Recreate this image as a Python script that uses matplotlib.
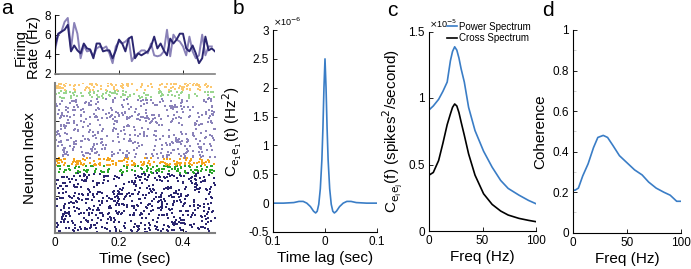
import numpy as np
import matplotlib
matplotlib.use("Agg")
import matplotlib.pyplot as plt
from matplotlib.ticker import FuncFormatter

plt.rcParams['font.family'] = ['Liberation Sans', 'DejaVu Sans']
plt.rcParams['axes.unicode_minus'] = False
plt.rcParams['xtick.direction'] = 'in'
plt.rcParams['ytick.direction'] = 'in'

# ---- panel a: population firing rates (Hz), 10 ms bins
rate_dark = [4.8, 6.1, 6.3, 6.5, 7.0, 4.3, 4.9, 4.4, 4.1, 5.1, 4.6, 4.5, 3.6, 5.1, 5.1,
             4.3, 4.4, 4.4, 3.6, 4.4, 5.5, 5.1, 4.3, 5.6, 5.8, 3.6, 4.1, 3.9, 4.1, 4.3,
             4.8, 5.8, 4.6, 5.1, 4.4, 3.9, 5.6, 5.1, 5.5, 6.1, 6.1, 4.6, 4.3, 4.9, 4.1,
             3.1, 3.6, 5.8, 4.4, 4.6, 4.3]
rate_light = [4.4, 6.0, 6.3, 7.3, 7.7, 4.6, 7.2, 6.1, 3.6, 4.9, 4.3, 4.4, 3.8, 4.6, 4.8,
              4.6, 4.8, 4.1, 3.1, 4.8, 5.3, 5.1, 5.3, 5.6, 3.3, 3.9, 4.1, 4.4, 4.4, 4.1,
              5.1, 3.9, 3.8, 3.9, 4.3, 6.5, 3.8, 6.0, 5.5, 5.3, 4.8, 3.9, 5.8, 4.3, 3.6,
              3.9, 6.0, 3.9, 4.8, 4.8]

# raster populations: (first index, last index, spike count, colour)
raster_groups = [
    (0, 800, 600, '#2b2670'),      # net 1 excitatory
    (800, 900, 120, '#2aa52a'),    # net 1 inhibitory A
    (900, 1000, 140, '#f5a51c'),   # net 1 inhibitory B
    (1000, 1800, 480, '#8b83ba'),  # net 2 excitatory
    (1800, 1900, 90, '#9ad68f'),   # net 2 inhibitory A
    (1900, 2000, 110, '#fcc870'),  # net 2 inhibitory B
]

# ---- panel b: autocovariance (x1e-6 Hz^2)
lag = [-0.1, -0.08, -0.06, -0.05, -0.042, -0.035, -0.028, -0.022, -0.018, -0.015, -0.012,
       -0.009, -0.006, -0.004, -0.002, 0.0, 0.002, 0.004, 0.006, 0.009, 0.012, 0.015,
       0.018, 0.022, 0.028, 0.035, 0.042, 0.05, 0.06, 0.08, 0.1]
acov = [0.0, 0.0, 0.01, 0.03, 0.03, 0.0, -0.06, -0.14, -0.17, -0.14, -0.02, 0.25, 0.75,
        1.3, 2.0, 2.5, 2.0, 1.3, 0.75, 0.25, -0.02, -0.14, -0.17, -0.14, -0.06, 0.0,
        0.03, 0.03, 0.01, 0.0, 0.0]

# ---- panel c: spectra (x1e-5 spikes^2/second)
freq_c = [0, 4, 9, 13, 17, 20, 22, 24, 26, 28, 30, 33, 37, 43, 51, 59, 67, 74, 84, 93, 100]
power = [0.91, 0.94, 0.99, 1.05, 1.12, 1.28, 1.35, 1.385, 1.36, 1.3, 1.22, 1.12, 0.93,
         0.755, 0.6, 0.48, 0.38, 0.32, 0.27, 0.23, 0.205]
cross = [0.42, 0.44, 0.53, 0.66, 0.8, 0.88, 0.93, 0.955, 0.94, 0.89, 0.82, 0.72, 0.58,
         0.42, 0.28, 0.2, 0.15, 0.12, 0.095, 0.08, 0.07]

# ---- panel d: coherence
freq_d = [0, 2, 5, 9, 14, 19, 23, 28, 32, 37, 43, 51, 57, 64, 70, 77, 84, 90, 93, 96, 100]
coher = [0.21, 0.21, 0.22, 0.28, 0.34, 0.42, 0.47, 0.48, 0.47, 0.43, 0.38, 0.34, 0.31,
         0.285, 0.25, 0.22, 0.2, 0.185, 0.17, 0.155, 0.155]

blue = '#3a7dc6'
W, H = 691, 269
fig = plt.figure(figsize=(W / 100, H / 100), dpi=100)


def box(l, t, r, b):
    return [l / W, 1 - b / H, (r - l) / W, (b - t) / H]


def style(ax, spine_col='black'):
    for s in ['top', 'right']:
        ax.spines[s].set_visible(False)
    for s in ['left', 'bottom']:
        ax.spines[s].set_color(spine_col)
        ax.spines[s].set_linewidth(0.8)
    ax.tick_params(labelsize=8.5, length=3, width=0.6, pad=3)


fmt = FuncFormatter(lambda v, p: '%g' % round(v, 3))
LBL = 11

# panel a, top
ax1 = fig.add_axes(box(55, 15, 215, 74))
t_d = np.arange(len(rate_dark)) * 0.01
t_l = np.arange(len(rate_light)) * 0.01
ax1.plot(t_l, rate_light, color='#8a82b8', lw=1.4)
ax1.plot(t_d, rate_dark, color='#2b2670', lw=1.4)
ax1.set_xlim(0, 0.5)
ax1.set_ylim(2, 8)
ax1.set_yticks([2, 4, 6, 8])
ax1.set_xticks([0, 0.2, 0.4])
ax1.set_xticklabels([])
style(ax1)
ax1.spines['bottom'].set_color('#808080')
ax1.spines['bottom'].set_linewidth(1.2)
ax1.set_ylabel('Firing\nRate (Hz)', fontsize=10.5, linespacing=1.0)
ax1.yaxis.set_label_coords(-0.085, 0.45)

# panel a, raster
ax2 = fig.add_axes(box(55, 83, 215, 233))
rng = np.random.default_rng(3)
for lo, hi, n, col in raster_groups:
    ts = rng.uniform(0, 0.5, n)
    ids = rng.uniform(lo, hi, n)
    ax2.scatter(ts, ids, s=1.2, marker='s', c=col, linewidths=0)
ax2.set_xlim(0, 0.5)
ax2.set_ylim(0, 2000)
ax2.set_xticks([0, 0.2, 0.4])
ax2.set_yticks([500, 1000, 1500])
ax2.set_yticklabels([])
style(ax2, '#808080')
ax2.spines['left'].set_linewidth(1.5)
ax2.spines['bottom'].set_linewidth(1.5)
ax2.xaxis.set_major_formatter(fmt)
ax2.set_ylabel('Neuron Index', fontsize=LBL, labelpad=10)
ax2.set_xlabel('Time (sec)', fontsize=LBL, labelpad=2)

# panel b
ax3 = fig.add_axes(box(273, 30, 377, 232))
ax3.plot(lag, acov, color=blue, lw=1.2)
ax3.set_xlim(-0.1, 0.1)
ax3.set_ylim(-0.5, 3)
ax3.set_yticks(np.arange(-0.5, 3.01, 0.5))
ax3.yaxis.set_major_formatter(fmt)
ax3.set_xticks([-0.1, 0, 0.1])
ax3.set_xticklabels(['0.1', '0', '0.1'])
style(ax3)
ax3.set_xlabel('Time lag (sec)', fontsize=LBL, labelpad=2)
ax3.set_ylabel(r'C$_{\mathrm{e_1e_1}}$(t) (Hz$^2$)', fontsize=LBL, labelpad=3)
ax3.text(0.0, 1.01, r'$\times$10$^{-6}$', transform=ax3.transAxes, fontsize=6.5,
         ha='left', va='bottom')

# panel c
ax4 = fig.add_axes(box(429, 31.5, 536, 231))
ax4.plot(freq_c, power, color=blue, lw=1.2, label='Power Spectrum')
ax4.plot(freq_c, cross, color='black', lw=1.2, label='Cross Spectrum')
ax4.set_xlim(0, 100)
ax4.set_ylim(0, 1.5)
ax4.set_yticks([0, 0.5, 1, 1.5])
ax4.set_xticks([0, 50, 100])
ax4.yaxis.set_major_formatter(fmt)
style(ax4)
ax4.set_xlabel('Freq (Hz)', fontsize=LBL, labelpad=2)
ax4.set_ylabel(r'C$_{\mathrm{e_ie_j}}$(f) (spikes$^2$/second)', fontsize=LBL, labelpad=3)
ax4.text(0.0, 1.01, r'$\times$10$^{-5}$', transform=ax4.transAxes, fontsize=6.5,
         ha='left', va='bottom')
ax4.legend(loc='upper left', bbox_to_anchor=(0.17, 1.05), frameon=False, fontsize=7,
           handlelength=1.0, handletextpad=0.2, borderpad=0, labelspacing=0.15,
           borderaxespad=0)

# panel d
ax5 = fig.add_axes(box(573, 30, 681, 232.7))
ax5.plot(freq_d, coher, color=blue, lw=1.2)
ax5.set_xlim(0, 100)
ax5.set_ylim(0, 1)
ax5.set_yticks(np.arange(0, 1.01, 0.2))
ax5.set_yticks(np.arange(0.1, 1.0, 0.2), minor=True)
ax5.set_xticks([0, 50, 100])
ax5.yaxis.set_major_formatter(fmt)
style(ax5)
ax5.tick_params(which='minor', length=2, width=0.5, color='#bbbbbb')
ax5.set_xlabel('Freq (Hz)', fontsize=LBL, labelpad=2)
ax5.set_ylabel('Coherence', fontsize=LBL, labelpad=4)

# panel letters
for x, y, s in [(1, 8, 'a'), (233, 8, 'b'), (387, 10, 'c'), (542, 10, 'd')]:
    fig.text(x / W, 1 - y / H, s, fontsize=15, ha='left', va='center')

fig.savefig('out.png', dpi=100)
